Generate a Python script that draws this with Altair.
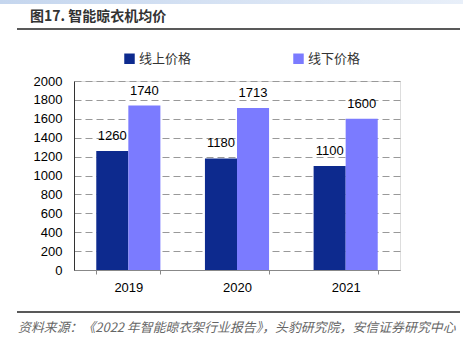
import altair as alt
import pandas as pd

years = ["2019", "2020", "2021"]
series = ["线上价格", "线下价格"]
online = [1260, 1180, 1100]
offline = [1740, 1713, 1600]
colors = ["#0D2A8E", "#7B7BFF"]

rows = []
for i, y in enumerate(years):
    rows.append({"year": y, "series": series[0], "value": online[i]})
    rows.append({"year": y, "series": series[1], "value": offline[i]})
df = pd.DataFrame(rows)

W, H = 326, 189
CJK = "Noto Sans CJK SC"
LAT = "Liberation Sans"

xenc = alt.X("year:N", title=None, sort=years,
             scale=alt.Scale(paddingInner=0.41, paddingOuter=0.205),
             axis=alt.Axis(labelAngle=0, labelFont=LAT, labelFontSize=13, labelColor="#000",
                           labelPadding=7, domainColor="#888", tickColor="#888",
                           tickBand="extent", tickSize=4, grid=False))
yenc = alt.Y("value:Q", title=None,
             scale=alt.Scale(domain=[0, 2000]),
             axis=alt.Axis(values=list(range(0, 2001, 200)), format="d", labelOverlap=False,
                           labelFont=LAT, labelFontSize=13,
                           labelColor="#000", labelPadding=12, ticks=False, domainColor="#333",
                           grid=True, gridDash=[7, 4], gridColor="#999", gridWidth=1.2))

base = alt.Chart(df)
bars = base.mark_bar().encode(
    x=xenc, y=yenc,
    xOffset=alt.XOffset("series:N", sort=series),
    color=alt.Color("series:N", sort=series,
                    scale=alt.Scale(domain=series, range=colors),
                    legend=alt.Legend(title=None, orient="none", legendX=49, legendY=-29,
                                      direction="horizontal", symbolType="square",
                                      symbolSize=110, symbolStrokeWidth=0,
                                      labelFont=CJK, labelFontSize=13, labelColor="#333",
                                      columnPadding=100, labelOffset=3)),
)
labels = base.mark_text(font=LAT, fontSize=13, color="#000", baseline="bottom", dy=-8).encode(
    x=xenc, y=yenc,
    xOffset=alt.XOffset("series:N", sort=series),
    text="value:Q",
)

# decorations
deco = pd.DataFrame({"k": [0]})
band = alt.Chart(deco).mark_rect(
    color=alt.Gradient(gradient="linear",
                       stops=[alt.GradientStop(color="#C5D6EE", offset=0),
                              alt.GradientStop(color="#E8EFF9", offset=1)],
                       x1=0, x2=1, y1=0, y2=0)
).encode(x=alt.value(-74), x2=alt.value(389), y=alt.value(-81), y2=alt.value(-77))
top_line = alt.Chart(deco).mark_rule(color="#222", strokeWidth=1.5).encode(
    x=alt.value(-57), x2=alt.value(386), y=alt.value(-52))
bot_line = alt.Chart(deco).mark_rule(color="#222", strokeWidth=1.5).encode(
    x=alt.value(-57), x2=alt.value(386), y=alt.value(231))
title = alt.Chart(deco).mark_text(
    text="图17. 智能晾衣机均价", font=CJK, fontSize=14, fontWeight="bold", color="#333",
    align="left", baseline="middle").encode(x=alt.value(-44), y=alt.value(-64))
source = alt.Chart(deco).mark_text(
    text="资料来源：《2022 年智能晾衣架行业报告》，头豹研究院，安信证券研究中心",
    font=CJK, fontSize=12.9, fontStyle="italic", color="#666",
    align="left", baseline="middle").encode(x=alt.value(-56), y=alt.value(247))

chart = alt.layer(bars, labels, band, top_line, bot_line, title, source).properties(
    width=W, height=H,
    padding={"left": 74, "top": 81, "right": 63, "bottom": 81},
    autosize=alt.AutoSizeParams(type="none"),
).configure_view(stroke=None).configure(background="white")

chart.save("out.html", embed_options={"renderer": "svg", "actions": False})
